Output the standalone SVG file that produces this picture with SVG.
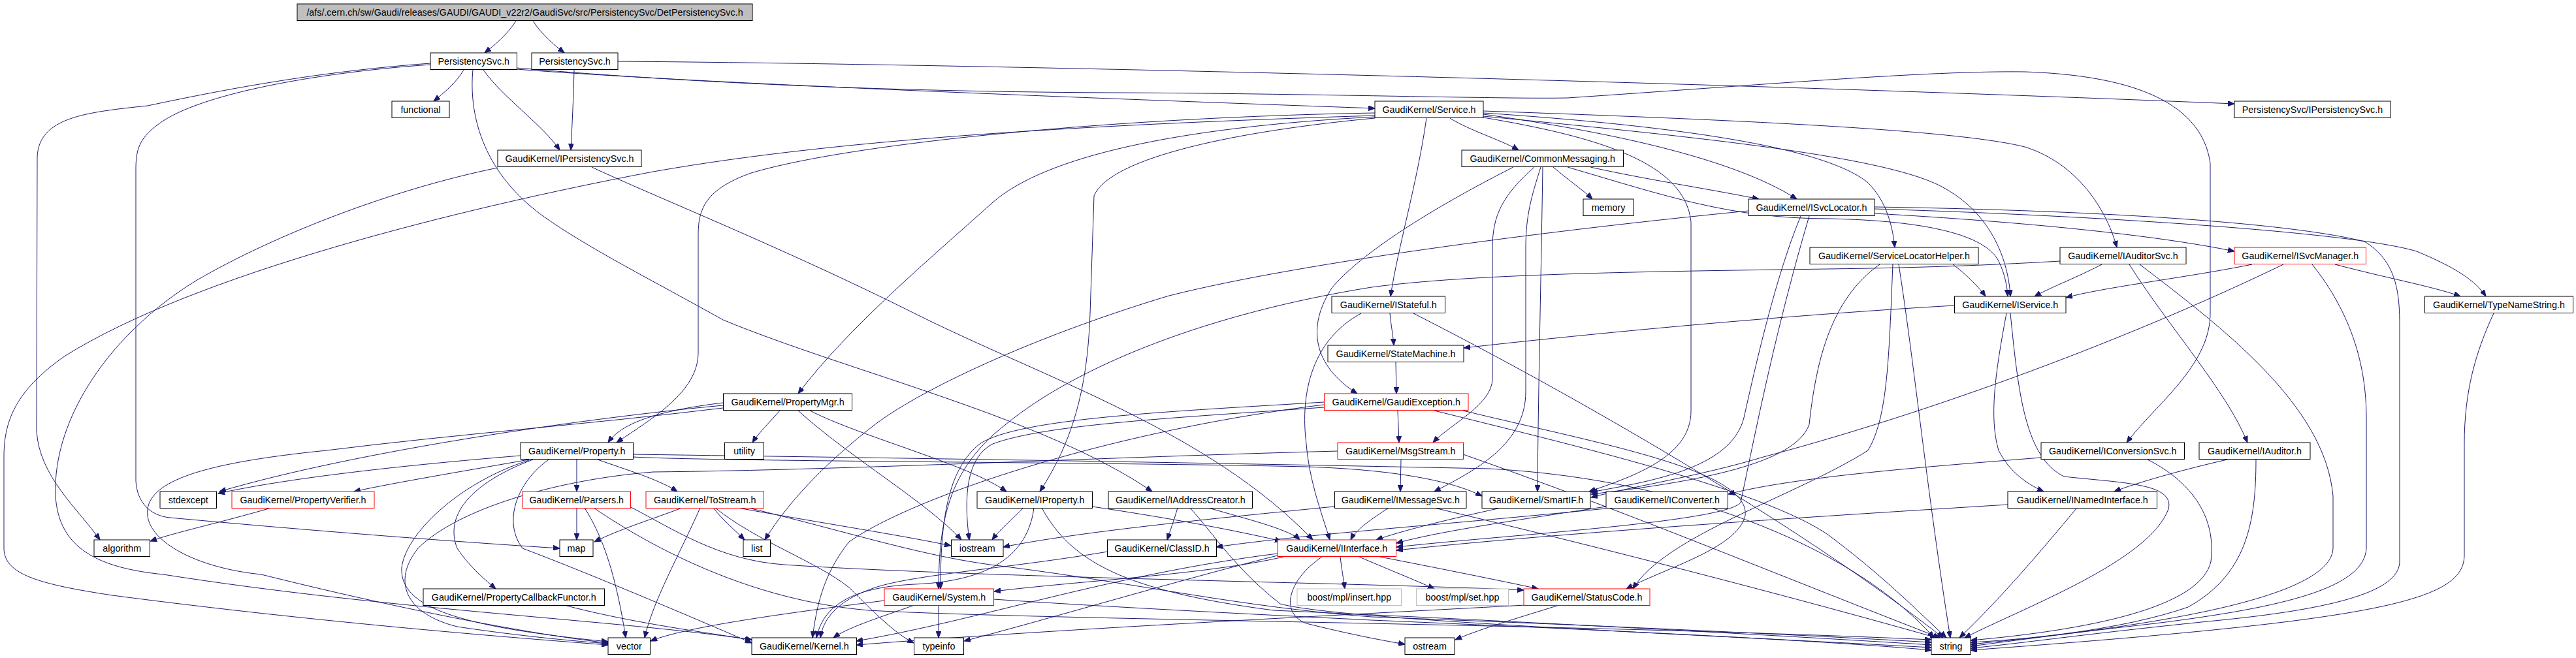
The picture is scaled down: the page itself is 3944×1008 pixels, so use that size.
<svg xmlns="http://www.w3.org/2000/svg" width="3944" height="1008" viewBox="0 0 3944 1008">
<style>
.n rect{fill:#fff;stroke:#000;stroke-width:1}
.n.r rect{stroke:#f00}
.n.g rect{stroke:#bfbfbf}
.n.t rect{fill:#bfbfbf}
.n text{font-family:"Liberation Sans",Arial,Helvetica,sans-serif;font-size:14.3px;text-anchor:middle;fill:#000}
.e path{fill:none;stroke:#191970;stroke-width:1;marker-end:url(#ah)}
</style>
<defs>
<marker id="ah" markerUnits="userSpaceOnUse" markerWidth="11" markerHeight="8" refX="10" refY="4" orient="auto">
<path d="M0,0 L10,4 L0,8 z" fill="#191970" stroke="#191970" stroke-width="1"/>
</marker>
</defs>
<rect width="3944" height="1008" fill="#fff"/>
<g id="edges" class="e">
<path d="M790,32 C776,54 756,70 742,81"/>
<path d="M816,32 C830,54 850,70 864,81"/>
<path d="M710,107 C700,125 680,142 664,155"/>
<path d="M740,107 C770,150 830,190 857,230"/>
<path d="M879,107 C878,150 876,190 874,230"/>
<path d="M659,97 C480,110 330,140 226,162 C130,172 60,180 57,240 L56,660 C60,730 120,780 153,827"/>
<path d="M659,99 C500,110 320,140 250,185 C212,210 208,230 208,260 L208,737 C210,770 230,790 260,793 C500,815 700,830 857,840"/>
<path d="M791,106 C1100,130 1800,155 2105,166"/>
<path d="M791,104 C1000,122 1300,140 1700,142 C2000,143 2300,152 2400,150 C2700,130 2950,108 3100,110 C3250,115 3370,150 3384,250 L3384,480 C3384,560 3300,620 3256,678"/>
<path d="M724,107 C718,170 735,260 830,330 C900,380 1000,430 1107,490 C1300,570 1600,640 1764,753"/>
<path d="M946,94 C1500,98 2600,125 3421,159"/>
<path d="M906,256 C1000,300 1200,380 1400,480 C1600,580 1850,660 2010,827"/>
<path d="M762,257 C600,290 420,360 300,430 C170,510 80,640 85,760 C90,840 150,870 250,880 C600,935 950,950 1151,980"/>
<path d="M2220,181 C2250,200 2300,215 2325,230"/>
<path d="M2271,175 C2450,200 2650,240 2751,305"/>
<path d="M2271,173 C2600,195 2800,230 2860,280 C2890,310 2898,350 2901,379"/>
<path d="M2271,170 C2700,185 3000,200 3100,225 C3180,250 3225,320 3241,379"/>
<path d="M2184,181 C2170,280 2140,380 2129,454"/>
<path d="M2271,178 C2600,210 2900,240 2980,290 C3050,330 3075,400 3078,454"/>
<path d="M2271,180 C2450,210 2580,250 2589,340 L2589,630 C2589,700 2500,730 2433,753"/>
<path d="M2105,177 C1700,190 1300,210 1000,263 C700,320 300,420 100,545 C20,600 6,650 6,700 L6,840 C6,880 60,895 172,912 C500,955 800,978 931,988"/>
<path d="M2105,173 C1700,180 1300,220 1150,265 C1080,290 1069,320 1069,360 L1069,540 C1069,600 1000,640 944,678"/>
<path d="M2105,179 C1800,195 1600,240 1520,310 C1420,400 1300,500 1222,603"/>
<path d="M2105,181 C1900,200 1700,240 1675,300 L1669,480 C1665,600 1640,680 1592,753"/>
<path d="M2378,256 C2400,275 2425,292 2438,305"/>
<path d="M2435,256 C2520,275 2620,290 2693,305"/>
<path d="M2317,256 C2250,290 2100,370 2040,440 C2000,500 2010,560 2078,603"/>
<path d="M2349,256 C2300,300 2285,330 2285,380 L2285,580 C2285,620 2220,650 2194,678"/>
<path d="M2359,256 C2345,300 2336,330 2336,380 L2336,600 C2336,680 2260,720 2196,753"/>
<path d="M2362,256 C2360,400 2355,600 2354,753"/>
<path d="M2400,256 C2550,300 2650,335 2800,335 C2950,338 3040,360 3060,400 C3070,420 3073,440 3074,454"/>
<path d="M2677,323 C2400,350 2000,400 1790,453 C1600,510 1420,590 1340,650 C1250,720 1200,780 1171,827"/>
<path d="M2870,327 C3100,340 3300,360 3421,385"/>
<path d="M2870,320 C3200,330 3600,355 3700,385 C3760,410 3790,430 3806,454"/>
<path d="M2870,317 C3200,322 3500,340 3620,370 C3670,400 3674,450 3674,500 L3674,860 C3674,900 3600,930 3400,950 C3200,970 3100,985 3017,993"/>
<path d="M2757,331 C2720,420 2690,550 2670,640 C2650,720 2520,738 2436,754"/>
<path d="M2770,331 C2720,500 2690,650 2665,770 C2640,800 2300,820 2138,838"/>
<path d="M2990,405 C3010,420 3030,440 3040,454"/>
<path d="M2878,405 C2800,460 2780,560 2770,650 C2750,710 2600,738 2436,757"/>
<path d="M2898,405 C2892,550 2890,640 2860,690 C2750,760 2550,820 2500,902"/>
<path d="M2907,405 C2930,550 2950,750 2986,977"/>
<path d="M3218,405 C3180,425 3140,440 3115,454"/>
<path d="M3260,405 C3320,500 3410,600 3441,678"/>
<path d="M3276,405 C3400,500 3560,620 3572,760 L3572,840 C3570,900 3400,950 3017,987"/>
<path d="M3154,400 C3050,406 2950,410 2800,412 C2500,416 2250,420 2100,440 C1850,480 1650,560 1540,650 C1450,720 1438,800 1437,902"/>
<path d="M3448,405 C3350,425 3220,440 3163,456"/>
<path d="M3575,405 C3650,425 3730,440 3767,454"/>
<path d="M3496,405 C3300,500 3000,620 2700,700 C2600,730 2500,745 2436,762"/>
<path d="M3540,405 C3600,480 3623,560 3623,640 L3623,840 C3620,900 3500,930 3300,955 C3150,972 3080,982 3017,990"/>
<path d="M2128,480 C2130,500 2133,515 2134,529"/>
<path d="M2084,480 C2010,520 1990,600 2000,680 C2005,740 2025,790 2036,827"/>
<path d="M2164,480 C2400,600 2750,800 2975,977"/>
<path d="M2137,555 L2138,603"/>
<path d="M2992,468 C2700,485 2400,515 2241,533"/>
<path d="M3072,480 C3055,570 3045,640 3060,690 C3075,720 3100,740 3129,753"/>
<path d="M3078,480 C3090,600 3100,700 3160,730 C3250,740 3330,740 3320,780 C3290,860 3100,930 3008,977"/>
<path d="M3818,480 C3790,540 3773,600 3773,680 L3773,850 C3773,920 3650,950 3017,996"/>
<path d="M3125,701 C2950,715 2750,730 2646,757"/>
<path d="M3288,704 C3340,730 3395,780 3385,860 C3370,930 3200,965 3017,981"/>
<path d="M3410,704 C3340,720 3270,740 3237,753"/>
<path d="M3454,704 C3454,800 3440,880 3350,930 C3250,965 3100,980 3017,984"/>
<path d="M3074,773 C2800,790 2400,815 2138,843"/>
<path d="M3179,779 C3120,850 3060,920 3000,977"/>
<path d="M1107,617 C1000,630 950,650 931,678"/>
<path d="M1194,629 C1180,645 1160,665 1152,678"/>
<path d="M1222,629 C1300,700 1420,770 1472,827"/>
<path d="M1240,629 C1320,670 1480,710 1541,753"/>
<path d="M1107,621 C900,640 550,690 336,753"/>
<path d="M1107,625 C900,650 700,665 500,690 C300,710 220,740 226,790 C230,830 300,870 400,880 C600,930 800,970 931,985"/>
<path d="M797,698 C650,710 450,730 334,756"/>
<path d="M810,704 C720,720 600,740 542,753"/>
<path d="M883,704 L883,753"/>
<path d="M915,704 C960,720 1010,735 1037,753"/>
<path d="M816,704 C720,740 680,790 700,840 C720,870 745,890 759,902"/>
<path d="M810,705 C700,740 620,820 615,870 C612,930 700,960 931,983"/>
<path d="M840,704 C790,740 770,800 800,840 C880,870 1000,920 1151,985"/>
<path d="M969,700 C1100,707 1700,708 2000,715 C2150,720 2230,740 2269,760"/>
<path d="M969,696 C1400,702 1800,708 2280,718 C2600,735 2850,850 2961,977"/>
<path d="M415,778 C340,800 270,815 230,829"/>
<path d="M883,778 L883,827"/>
<path d="M895,778 C915,810 940,860 958,977"/>
<path d="M909,778 C1000,840 1150,920 1330,935 C1600,950 2400,955 2957,980"/>
<path d="M966,777 C1030,810 1100,858 1200,865 C1500,885 2100,893 2333,904"/>
<path d="M1044,778 C1000,795 950,810 910,830"/>
<path d="M1072,778 C1040,850 1000,920 987,977"/>
<path d="M1092,778 C1105,795 1125,812 1140,827"/>
<path d="M1095,778 C1160,830 1250,860 1300,900 C1340,940 1370,970 1399,985"/>
<path d="M1130,778 C1250,800 1380,820 1456,836"/>
<path d="M1146,778 C1300,815 1420,855 1540,868 C1750,895 1900,930 2100,945 C2500,960 2800,975 2957,984"/>
<path d="M1567,778 C1550,795 1530,812 1519,827"/>
<path d="M1583,778 C1575,840 1530,890 1400,895 C1300,900 1260,930 1250,977"/>
<path d="M1595,778 C1640,860 1720,905 1950,935 C2400,955 2800,978 2957,988"/>
<path d="M1672,776 C1780,792 1880,810 1962,829"/>
<path d="M1803,778 C1798,795 1792,812 1787,827"/>
<path d="M1850,778 C1920,798 1975,812 1990,827"/>
<path d="M1822,778 C1860,820 1890,870 1960,925 C2050,950 2600,972 2957,992"/>
<path d="M1696,845 C1550,870 1400,880 1340,900 C1280,920 1260,950 1256,977"/>
<path d="M1400,927 C1350,945 1300,960 1276,977"/>
<path d="M1437,927 L1437,977"/>
<path d="M1354,920 C1200,940 1050,960 996,982"/>
<path d="M1521,918 C1700,930 1900,940 2100,950 C2500,967 2800,982 2957,996"/>
<path d="M2126,778 C2100,795 2075,812 2068,827"/>
<path d="M2043,776 C1850,795 1650,815 1536,838"/>
<path d="M2196,778 C2500,850 2800,930 2965,977"/>
<path d="M2298,778 C2220,795 2150,812 2107,827"/>
<path d="M2459,776 C2300,800 2200,815 2138,832"/>
<path d="M2459,779 C2200,805 2000,818 1862,838"/>
<path d="M2052,853 C2054,870 2057,888 2059,902"/>
<path d="M2081,853 C2120,870 2170,890 2196,902"/>
<path d="M2113,853 C2200,870 2300,890 2355,902"/>
<path d="M2024,853 C1970,890 1960,940 2000,955 C2060,970 2110,980 2151,987"/>
<path d="M1956,848 C1700,880 1500,950 1311,982"/>
<path d="M1956,851 C1800,890 1600,950 1476,982"/>
<path d="M1965,853 C1850,880 1650,890 1522,906"/>
<path d="M2387,927 C2330,945 2270,962 2228,980"/>
<path d="M2335,927 C2000,945 1600,965 1311,988"/>
<path d="M864,927 C950,950 1050,965 1151,980"/>
<path d="M2140,629 L2142,678"/>
<path d="M2027,616 C1800,630 1560,640 1500,680 C1450,720 1440,800 1440,902"/>
<path d="M2027,620 C1700,660 1400,760 1300,830 C1260,880 1250,930 1244,977"/>
<path d="M2027,624 C1800,640 1600,650 1520,680 C1480,700 1475,760 1484,827"/>
<path d="M2240,629 C2450,680 2680,720 2672,790 C2660,840 2550,870 2490,902"/>
<path d="M2196,629 C2400,680 2700,750 2800,820 C2880,880 2930,930 2980,977"/>
<path d="M2145,704 L2144,753"/>
<path d="M2240,696 C2480,780 2720,880 2970,977"/>
<path d="M2048,691 C1700,700 1300,720 1000,723 C850,735 700,780 640,840 C600,890 620,940 700,960 C800,975 880,982 931,986"/>
</g>
<g id="node-det" class="n t"><rect x="455" y="6" width="697" height="25.5"/><text x="803.5" y="24">/afs/.cern.ch/sw/Gaudi/releases/GAUDI/GAUDI_v22r2/GaudiSvc/src/PersistencySvc/DetPersistencySvc.h</text></g>
<g id="node-persistencysvc-a" class="n"><rect x="659" y="81" width="132.5" height="25.5"/><text x="725.25" y="99">PersistencySvc.h</text></g>
<g id="node-persistencysvc-b" class="n"><rect x="814" y="81" width="132" height="25.5"/><text x="880" y="99">PersistencySvc.h</text></g>
<g id="node-functional" class="n"><rect x="600" y="155" width="88" height="25.5"/><text x="644" y="173">functional</text></g>
<g id="node-service" class="n"><rect x="2105" y="155" width="166" height="25.5"/><text x="2188" y="173">GaudiKernel/Service.h</text></g>
<g id="node-ps-ipersistencysvc" class="n"><rect x="3421" y="155" width="239" height="25.5"/><text x="3540.5" y="173">PersistencySvc/IPersistencySvc.h</text></g>
<g id="node-gk-ipersistencysvc" class="n"><rect x="762" y="230" width="220" height="25.5"/><text x="872" y="248">GaudiKernel/IPersistencySvc.h</text></g>
<g id="node-commonmessaging" class="n"><rect x="2238" y="230" width="247.5" height="25.5"/><text x="2361.75" y="248">GaudiKernel/CommonMessaging.h</text></g>
<g id="node-memory" class="n"><rect x="2424" y="305" width="77" height="25.5"/><text x="2462.5" y="323">memory</text></g>
<g id="node-isvclocator" class="n"><rect x="2677" y="305" width="193" height="25.5"/><text x="2773.5" y="323">GaudiKernel/ISvcLocator.h</text></g>
<g id="node-servicelocatorhelper" class="n"><rect x="2771" y="379" width="258" height="25.5"/><text x="2900" y="397">GaudiKernel/ServiceLocatorHelper.h</text></g>
<g id="node-iauditorsvc" class="n"><rect x="3154" y="379" width="193" height="25.5"/><text x="3250.5" y="397">GaudiKernel/IAuditorSvc.h</text></g>
<g id="node-isvcmanager" class="n r"><rect x="3421" y="379" width="201.5" height="25.5"/><text x="3521.75" y="397">GaudiKernel/ISvcManager.h</text></g>
<g id="node-istateful" class="n"><rect x="2039" y="454" width="173.5" height="25.5"/><text x="2125.75" y="472">GaudiKernel/IStateful.h</text></g>
<g id="node-iservice" class="n"><rect x="2992.5" y="454" width="170.5" height="25.5"/><text x="3077.75" y="472">GaudiKernel/IService.h</text></g>
<g id="node-typenamestring" class="n"><rect x="3712.5" y="454" width="227" height="25.5"/><text x="3826" y="472">GaudiKernel/TypeNameString.h</text></g>
<g id="node-statemachine" class="n"><rect x="2033" y="529" width="208" height="25.5"/><text x="2137" y="547">GaudiKernel/StateMachine.h</text></g>
<g id="node-gaudiexception" class="n r"><rect x="2027.5" y="603" width="220.5" height="25.5"/><text x="2137.75" y="621">GaudiKernel/GaudiException.h</text></g>
<g id="node-propertymgr" class="n"><rect x="1107.5" y="603" width="197" height="25.5"/><text x="1206" y="621">GaudiKernel/PropertyMgr.h</text></g>
<g id="node-property" class="n"><rect x="797" y="678" width="172.5" height="25.5"/><text x="883.25" y="696">GaudiKernel/Property.h</text></g>
<g id="node-utility" class="n"><rect x="1109.5" y="678" width="60" height="25.5"/><text x="1139.5" y="696">utility</text></g>
<g id="node-msgstream" class="n r"><rect x="2048" y="678" width="192.5" height="25.5"/><text x="2144.25" y="696">GaudiKernel/MsgStream.h</text></g>
<g id="node-iconversionsvc" class="n"><rect x="3125" y="678" width="219.5" height="25.5"/><text x="3234.75" y="696">GaudiKernel/IConversionSvc.h</text></g>
<g id="node-iauditor" class="n"><rect x="3367" y="678" width="170" height="25.5"/><text x="3452" y="696">GaudiKernel/IAuditor.h</text></g>
<g id="node-stdexcept" class="n"><rect x="245" y="753" width="86.5" height="25.5"/><text x="288.25" y="771">stdexcept</text></g>
<g id="node-propertyverifier" class="n r"><rect x="355" y="753" width="218" height="25.5"/><text x="464" y="771">GaudiKernel/PropertyVerifier.h</text></g>
<g id="node-parsers" class="n r"><rect x="800" y="753" width="165.5" height="25.5"/><text x="882.75" y="771">GaudiKernel/Parsers.h</text></g>
<g id="node-tostream" class="n r"><rect x="989" y="753" width="180.5" height="25.5"/><text x="1079.25" y="771">GaudiKernel/ToStream.h</text></g>
<g id="node-iproperty" class="n"><rect x="1496" y="753" width="176.5" height="25.5"/><text x="1584.25" y="771">GaudiKernel/IProperty.h</text></g>
<g id="node-iaddresscreator" class="n"><rect x="1697" y="753" width="220.5" height="25.5"/><text x="1807.25" y="771">GaudiKernel/IAddressCreator.h</text></g>
<g id="node-imessagesvc" class="n"><rect x="2043.5" y="753" width="201.5" height="25.5"/><text x="2144.25" y="771">GaudiKernel/IMessageSvc.h</text></g>
<g id="node-smartif" class="n"><rect x="2269" y="753" width="166" height="25.5"/><text x="2352" y="771">GaudiKernel/SmartIF.h</text></g>
<g id="node-iconverter" class="n"><rect x="2459" y="753" width="186.5" height="25.5"/><text x="2552.25" y="771">GaudiKernel/IConverter.h</text></g>
<g id="node-inamedinterface" class="n"><rect x="3074" y="753" width="228.5" height="25.5"/><text x="3188.25" y="771">GaudiKernel/INamedInterface.h</text></g>
<g id="node-algorithm" class="n"><rect x="144" y="827" width="85.5" height="25.5"/><text x="186.75" y="845">algorithm</text></g>
<g id="node-map" class="n"><rect x="857" y="827" width="51" height="25.5"/><text x="882.5" y="845">map</text></g>
<g id="node-list" class="n"><rect x="1138" y="827" width="41.5" height="25.5"/><text x="1158.75" y="845">list</text></g>
<g id="node-iostream" class="n"><rect x="1456.5" y="827" width="79.5" height="25.5"/><text x="1496.25" y="845">iostream</text></g>
<g id="node-classid" class="n"><rect x="1695.5" y="827" width="167" height="25.5"/><text x="1779" y="845">GaudiKernel/ClassID.h</text></g>
<g id="node-iinterface" class="n r"><rect x="1956" y="827" width="181.5" height="25.5"/><text x="2046.75" y="845">GaudiKernel/IInterface.h</text></g>
<g id="node-propertycallbackfunctor" class="n"><rect x="648" y="902" width="277.5" height="25.5"/><text x="786.75" y="920">GaudiKernel/PropertyCallbackFunctor.h</text></g>
<g id="node-system" class="n r"><rect x="1354" y="902" width="167.5" height="25.5"/><text x="1437.75" y="920">GaudiKernel/System.h</text></g>
<g id="node-boost-insert" class="n g"><rect x="1986" y="902" width="159.5" height="25.5"/><text x="2065.75" y="920">boost/mpl/insert.hpp</text></g>
<g id="node-boost-set" class="n g"><rect x="2168.5" y="902" width="141" height="25.5"/><text x="2239" y="920">boost/mpl/set.hpp</text></g>
<g id="node-statuscode" class="n r"><rect x="2333" y="902" width="193" height="25.5"/><text x="2429.5" y="920">GaudiKernel/StatusCode.h</text></g>
<g id="node-vector" class="n"><rect x="931" y="977" width="64.5" height="25.5"/><text x="963.25" y="995">vector</text></g>
<g id="node-kernel" class="n"><rect x="1151" y="977" width="160.5" height="25.5"/><text x="1231.25" y="995">GaudiKernel/Kernel.h</text></g>
<g id="node-typeinfo" class="n"><rect x="1399.5" y="977" width="76" height="25.5"/><text x="1437.5" y="995">typeinfo</text></g>
<g id="node-ostream" class="n"><rect x="2151" y="977" width="76" height="25.5"/><text x="2189" y="995">ostream</text></g>
<g id="node-string" class="n"><rect x="2957" y="977" width="60" height="25.5"/><text x="2987" y="995">string</text></g>
</svg>
